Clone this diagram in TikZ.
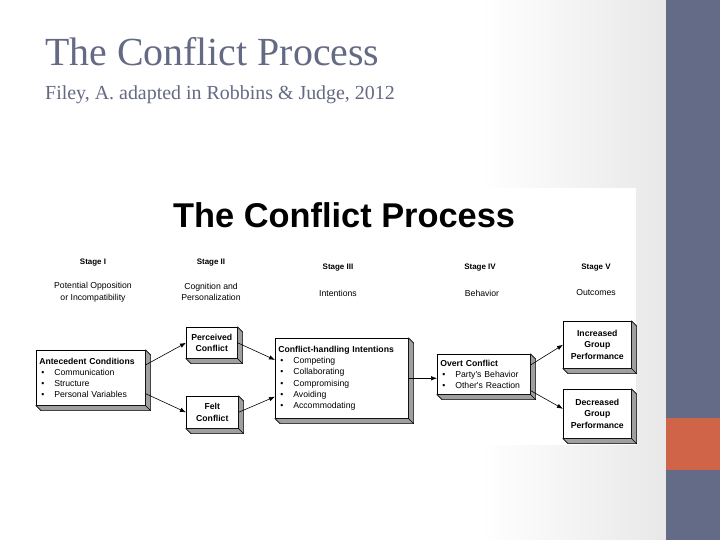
\documentclass[tikz,border=0pt]{standalone}
\usepackage{fontspec}
\setmainfont{Liberation Serif}
\newfontfamily\diagfont{Liberation Sans}
\usetikzlibrary{positioning,arrows.meta}
\definecolor{slateblue}{HTML}{636B86}
\definecolor{accentorange}{HTML}{CF6448}
\definecolor{titlegray}{HTML}{646A84}
\newcommand{\itm}{\hspace*{2bp}\makebox[13bp][l]{\textbullet}}

\begin{document}
\begin{tikzpicture}[x=1bp,y=-1bp,
  box/.style={draw, fill=white, line width=0.6pt, anchor=north west, inner sep=3bp,
    font=\diagfont\fontsize{8.7}{11.3}\selectfont},
  listbox/.style={box, align=left},
  textbox/.style={box, align=center, font=\diagfont\bfseries\fontsize{8.7}{11.8}\selectfont},
  stagelbl/.style={font=\diagfont\bfseries\fontsize{8}{10}\selectfont},
  stagedesc/.style={font=\diagfont\fontsize{8.7}{11.8}\selectfont, align=center},
  arr/.style={-{Latex[length=6pt,width=4.5pt]}, line width=0.6pt}]
\useasboundingbox (0,0) rectangle (720,540);

% slide background
\fill[white] (0,0) rectangle (720,540);
\shade[left color=white, right color=black!9] (480,0) rectangle (666,540);
\fill[white] (30,188) rectangle (636,445);
\fill[slateblue] (666,0) rectangle (720,540);
\fill[accentorange] (666,418) rectangle (720,470);

\node[anchor=base west, inner sep=0, text=titlegray, font=\fontsize{40}{48}\selectfont] (title) at (45,66) {The Conflict Process};
\node[anchor=base west, inner sep=0, text=titlegray, font=\fontsize{20}{24}\selectfont] (cite) at (45,100) {Filey, A. adapted in Robbins \& Judge, 2012};
\node[anchor=base west, inner sep=0, font=\diagfont\bfseries\fontsize{34.5}{40}\selectfont] (dtitle) at (173,228) {The Conflict Process};

% stages
\foreach \i/\x/\y/\t in {1/93/263/I, 2/211/263/II, 3/338/268/III, 4/480/268/IV, 5/596/268/V}
    \node[stagelbl] (stage\i) at (\x,\y) {Stage \t};
\node[stagedesc] (desc1) at (93,292) {Potential Opposition\\or Incompatibility};
\node[stagedesc] (desc2) at (211,292) {Cognition and\\Personalization};
\node[stagedesc] (desc3) at (338,293) {Intentions};
\node[stagedesc] (desc4) at (482,293) {Behavior};
\node[stagedesc] (desc5) at (596,293) {Outcomes};

% boxes
\node[listbox, text width=103bp, minimum height=55bp] (ante) at (36,350)
    {\textbf{Antecedent Conditions}\\\itm Communication\\\itm Structure\\\itm Personal Variables};
\node[textbox, minimum width=51bp, minimum height=31bp] (perc) at (186,327) {Perceived\\Conflict};
\node[textbox, minimum width=52bp, minimum height=32bp] (felt) at (186,396) {Felt\\Conflict};
\node[listbox, text width=127bp, minimum height=80bp] (chi) at (275,338)
    {\textbf{Conflict-handling Intentions}\\\itm Competing\\\itm Collaborating\\\itm Compromising\\\itm Avoiding\\\itm Accommodating};
\node[listbox, text width=87bp, minimum height=40bp] (overt) at (437,354)
    {\textbf{Overt Conflict}\\\itm Party's Behavior\\\itm Other's Reaction};
\node[textbox, minimum width=68bp, minimum height=47bp] (incr) at (563,321) {Increased\\Group\\Performance};
\node[textbox, minimum width=68bp, minimum height=49bp] (decr) at (563,389) {Decreased\\Group\\Performance};

\foreach \n in {ante,perc,felt,chi,overt,incr,decr}{
    \filldraw[fill=gray!75, line width=0.6pt] (\n.north east) -- ++(5,5) -- ([shift={(5,5)}]\n.south east)
        -- ([shift={(5,5)}]\n.south west) -- (\n.south west) -- (\n.south east) -- cycle;
    \draw[line width=0.6pt] (\n.south east) -- ++(5,5);
}

% connectors
\draw[arr] ([yshift=-15pt]ante.north east) -- (perc.west);
\draw[arr] ([yshift=12pt]ante.south east) -- (felt.west);
\draw[arr] (perc.east) -- ([yshift=-22pt]chi.north west);
\draw[arr] (felt.east) -- ([yshift=22pt]chi.south west);
\draw[arr] (chi.east) -- (chi.east -| overt.west);
\draw[arr] ([yshift=-11pt]overt.north east) -- (incr.west);
\draw[arr] ([yshift=4pt]overt.south east) -- ([yshift=5pt]decr.west);
\end{tikzpicture}
\end{document}
